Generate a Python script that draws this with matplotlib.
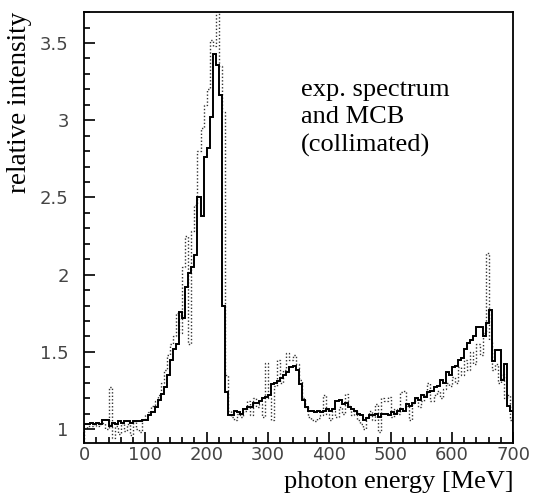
import numpy as np
import matplotlib
matplotlib.use("Agg")
import matplotlib.pyplot as plt
from matplotlib.ticker import MultipleLocator

# photon energy bins, 5 MeV wide from 0 to 700
BIN_WIDTH = 5
E_MIN = 0

# experimental spectrum (solid), one value per bin
exp_spectrum = [
    1.03, 1.03, 1.04, 1.03, 1.04, 1.03, 1.06, 1.06, 1.02, 1.04,
    1.03, 1.05, 1.04, 1.05, 1.05, 1.04, 1.05, 1.05, 1.05, 1.06,
    1.06, 1.09, 1.11, 1.14, 1.19, 1.23, 1.27, 1.35, 1.45, 1.52,
    1.55, 1.76, 1.72, 1.92, 2.01, 2.05, 2.13, 2.50, 2.38, 2.76,
    2.82, 3.02, 3.43, 3.36, 3.16, 1.80, 1.24, 1.09, 1.09, 1.12,
    1.11, 1.10, 1.13, 1.14, 1.14, 1.17, 1.17, 1.18, 1.20, 1.21,
    1.22, 1.29, 1.30, 1.31, 1.33, 1.35, 1.37, 1.40, 1.41, 1.38,
    1.29, 1.19, 1.14, 1.12, 1.12, 1.11, 1.12, 1.11, 1.12, 1.13,
    1.12, 1.13, 1.18, 1.19, 1.16, 1.17, 1.14, 1.13, 1.12, 1.10,
    1.09, 1.06, 1.07, 1.09, 1.09, 1.10, 1.08, 1.10, 1.10, 1.09,
    1.11, 1.10, 1.12, 1.13, 1.12, 1.16, 1.15, 1.17, 1.20, 1.19,
    1.22, 1.21, 1.24, 1.25, 1.27, 1.28, 1.32, 1.30, 1.37, 1.35,
    1.40, 1.41, 1.45, 1.46, 1.52, 1.56, 1.58, 1.60, 1.66, 1.66,
    1.60, 1.69, 1.77, 1.44, 1.51, 1.51, 1.32, 1.42, 1.15, 1.12,
]

# MCB calculation (dotted)
mcb_spectrum = [
    1.01, 1.02, 1.02, 1.03, 1.02, 1.03, 1.04, 1.00, 1.27, 0.94,
    1.02, 0.97, 1.04, 0.99, 1.03, 0.96, 1.05, 1.00, 0.98, 1.06,
    1.09, 1.11, 1.15, 1.18, 1.22, 1.30, 1.38, 1.48, 1.55, 1.60,
    1.75, 1.62, 2.05, 2.25, 1.55, 2.28, 2.45, 2.80, 2.95, 3.10,
    3.20, 3.52, 3.48, 3.72, 3.35, 3.05, 1.35, 1.12, 1.08, 1.06,
    1.10, 1.08, 1.12, 1.18, 1.09, 1.20, 1.14, 1.16, 1.08, 1.43,
    1.20, 1.06, 1.28, 1.45, 1.30, 1.38, 1.49, 1.45, 1.48, 1.42,
    1.32, 1.20, 1.14, 1.08, 1.06, 1.05, 1.07, 1.09, 1.22, 1.10,
    1.06, 1.12, 1.08, 1.14, 1.10, 1.23, 1.15, 1.09, 1.12, 1.06,
    1.03, 1.00, 1.08, 1.12, 1.06, 1.16, 0.98, 1.20, 1.18, 1.21,
    1.08, 1.13, 1.10, 1.24, 1.25, 1.15, 1.06, 1.17, 1.20, 1.14,
    1.18, 1.22, 1.30, 1.18, 1.22, 1.25, 1.20, 1.26, 1.30, 1.28,
    1.34, 1.30, 1.40, 1.35, 1.45, 1.38, 1.50, 1.42, 1.55, 1.48,
    1.62, 2.14, 1.58, 1.38, 1.42, 1.30, 1.36, 1.20, 1.22, 1.06,
]

annotation = "exp. spectrum\nand MCB\n(collimated)"

edges = E_MIN + BIN_WIDTH * np.arange(len(exp_spectrum) + 1)

fig = plt.figure(figsize=(5.42, 5.04), dpi=100)
ax = fig.add_axes([0.155, 0.121, 0.792, 0.855])

ax.stairs(mcb_spectrum, edges, color="#333333", linestyle=(0, (1, 1.5)), linewidth=1.0)
ax.stairs(exp_spectrum, edges, color="black", linewidth=1.4)

ax.set_xlim(0, 700)
ax.set_ylim(0.91, 3.70)

ax.xaxis.set_major_locator(MultipleLocator(100))
ax.xaxis.set_minor_locator(MultipleLocator(20))
ax.yaxis.set_major_locator(MultipleLocator(0.5))
ax.yaxis.set_minor_locator(MultipleLocator(0.1))
ax.yaxis.set_major_formatter(plt.FuncFormatter(lambda v, p: f"{v:g}"))

ax.tick_params(which="both", direction="in", top=False, right=False,
               labelsize=13, labelcolor="#444444", width=1.2)
ax.tick_params(which="major", length=8)
ax.tick_params(which="minor", length=4)
ax.tick_params(axis="x", which="major", pad=2)
ax.tick_params(axis="y", which="major", pad=11)
for lab in ax.get_xticklabels() + ax.get_yticklabels():
    lab.set_fontfamily("DejaVu Sans")

for sp in ax.spines.values():
    sp.set_linewidth(1.3)

ax.set_xlabel("photon energy [MeV]", family="Liberation Serif", fontsize=19,
              loc="right")
ax.xaxis.set_label_coords(1.0, -0.066)
ax.set_ylabel("relative intensity", family="Liberation Serif", fontsize=19.5,
              loc="top")
ax.yaxis.set_label_coords(-0.12, 1.0)

ax.text(0.505, 0.845, annotation, transform=ax.transAxes, family="Liberation Serif",
        fontsize=19, va="top", ha="left", linespacing=1.32)

fig.savefig("out.png", dpi=100)
